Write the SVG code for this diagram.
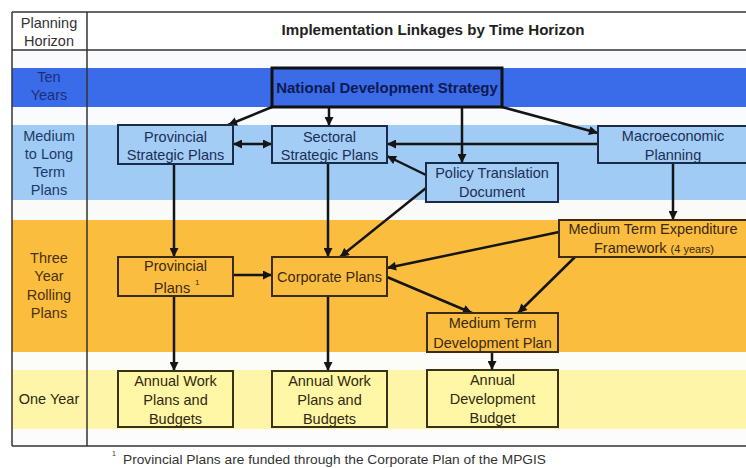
<svg xmlns="http://www.w3.org/2000/svg" width="746" height="468" viewBox="0 0 746 468">
  <style>
    text { font-family: "Liberation Sans", Arial, sans-serif; font-size: 14.5px; text-anchor: middle; }
    .hdr { font-weight: bold; font-size: 14px; fill: #222; }
    .lbl { fill: #333; }
    .lb-blue { fill: #1a2f7a; }
    .lb-lblue { fill: #1c3a6a; }
    .lb-orange { fill: #4a3210; }
    .lb-yellow { fill: #2b2b10; }
    .t-blue { fill: #1c2e55; }
    .t-orange { fill: #3a2a10; }
    .t-yellow { fill: #2f2a10; }
    .nds-box { fill: #3b6be6; stroke: #111; stroke-width: 3; }
    .nds-text { font-weight: bold; fill: #0d1a55; font-size: 15px; }
    .box-blue { fill: #a3cdf5; stroke: #1a2b48; stroke-width: 2; }
    .box-orange { fill: #fbbd40; stroke: #3b2a14; stroke-width: 2; }
    .box-yellow { fill: #fff6a6; stroke: #3a3214; stroke-width: 2; }
    .conn { fill: none; stroke: #151515; stroke-width: 2.5; marker-end: url(#ah); }
    .grid { stroke: #333; stroke-width: 1.5; fill: none; }
    .foot { font-size: 13.5px; fill: #333; text-anchor: start; }
    .sup { font-size: 8px; text-anchor: start; }
    .foot-sup { font-size: 7px; fill: #333; text-anchor: start; }
  </style>
  <defs>
    <marker id="ah" viewBox="0 0 10 10" refX="10" refY="5" markerWidth="10" markerHeight="9" markerUnits="userSpaceOnUse" orient="auto-start-reverse">
      <path d="M0,0 L10,5 L0,10 z" fill="#151515"/>
    </marker>
  </defs>

  <!-- page background -->
  <rect x="0" y="0" width="746" height="468" fill="#ffffff"/>

  <!-- horizon bands -->
  <g id="bands">
    <rect x="12" y="50" width="734" height="18" fill="#fafbfc"/>
    <rect x="12" y="68" width="734" height="39" fill="#3a6be8"/>
    <rect x="12" y="107" width="734" height="18" fill="#fafbfc"/>
    <rect x="12" y="125" width="734" height="75" fill="#9fcbf4"/>
    <rect x="12" y="200" width="734" height="20" fill="#fafaf8"/>
    <rect x="12" y="220" width="734" height="132" fill="#fbbd3e"/>
    <rect x="12" y="352" width="734" height="18" fill="#fcfcf8"/>
    <rect x="12" y="370" width="734" height="59" fill="#fff5a8"/>
    <rect x="12" y="429" width="734" height="17" fill="#fcfcfc"/>
  </g>

  <!-- table frame -->
  <g id="table">
    <line class="grid" x1="12" y1="12" x2="746" y2="12"/>
    <line class="grid" x1="12" y1="50" x2="746" y2="50"/>
    <line class="grid" x1="12" y1="446" x2="746" y2="446"/>
    <line class="grid" x1="12" y1="12" x2="12" y2="446"/>
    <line class="grid" x1="87" y1="12" x2="87" y2="446"/>
    <text class="lbl" x="49" y="28">Planning</text>
    <text class="lbl" x="49" y="46">Horizon</text>
    <text class="hdr" x="433" y="35" textLength="303" lengthAdjust="spacingAndGlyphs">Implementation Linkages by Time Horizon</text>
  </g>

  <!-- horizon labels -->
  <g id="horizon-labels">
    <text class="lb-blue" x="49" y="82">Ten</text>
    <text class="lb-blue" x="49" y="100">Years</text>
    <text class="lb-lblue" x="49" y="141">Medium</text>
    <text class="lb-lblue" x="49" y="159">to Long</text>
    <text class="lb-lblue" x="49" y="177">Term</text>
    <text class="lb-lblue" x="49" y="195">Plans</text>
    <text class="lb-orange" x="49" y="263">Three</text>
    <text class="lb-orange" x="49" y="281">Year</text>
    <text class="lb-orange" x="49" y="300">Rolling</text>
    <text class="lb-orange" x="49" y="318">Plans</text>
    <text class="lb-yellow" x="49" y="404">One Year</text>
  </g>

  <!-- connectors -->
  <g id="connectors">
    <path class="conn" d="M272,107 L228,125"/>
    <path class="conn" d="M329,107 L329,126"/>
    <path class="conn" d="M462,107 L462,163"/>
    <path class="conn" d="M502,107 L598,133"/>
    <path class="conn" d="M233,144 L272,144" style="marker-start:url(#ah)"/>
    <path class="conn" d="M598,144 L387,144"/>
    <path class="conn" d="M426,175 L387,156"/>
    <path class="conn" d="M426,188 L340,257"/>
    <path class="conn" d="M174,164 L174,257"/>
    <path class="conn" d="M328,163 L328,257"/>
    <path class="conn" d="M673,163 L673,220"/>
    <path class="conn" d="M559,232 L387,268"/>
    <path class="conn" d="M575,257 L518,313"/>
    <path class="conn" d="M387,277 L472,313"/>
    <path class="conn" d="M233,275 L272,275"/>
    <path class="conn" d="M174,296 L174,371"/>
    <path class="conn" d="M328,296 L328,371"/>
    <path class="conn" d="M492,352 L492,370"/>
  </g>

  <!-- ten-year node -->
  <g id="national-development-strategy">
    <rect class="nds-box" x="272" y="68" width="230" height="39"/>
    <text class="nds-text" x="387" y="93">National Development Strategy</text>
  </g>

  <!-- medium to long term nodes -->
  <g id="provincial-strategic-plans">
    <rect class="box-blue" x="118" y="125" width="115" height="39"/>
    <text class="t-blue" x="175.5" y="142">Provincial</text>
    <text class="t-blue" x="175.5" y="160">Strategic Plans</text>
  </g>
  <g id="sectoral-strategic-plans">
    <rect class="box-blue" x="272" y="126" width="115" height="37"/>
    <text class="t-blue" x="329.5" y="142">Sectoral</text>
    <text class="t-blue" x="329.5" y="160">Strategic Plans</text>
  </g>
  <g id="policy-translation-document">
    <rect class="box-blue" x="426" y="163" width="132" height="39"/>
    <text class="t-blue" x="492" y="178">Policy Translation</text>
    <text class="t-blue" x="492" y="197">Document</text>
  </g>
  <g id="macroeconomic-planning">
    <rect class="box-blue" x="598" y="126" width="160" height="37"/>
    <text class="t-blue" x="673" y="141">Macroeconomic</text>
    <text class="t-blue" x="673" y="160">Planning</text>
  </g>

  <!-- three year rolling nodes -->
  <g id="medium-term-expenditure-framework">
    <rect class="box-orange" x="559" y="220" width="200" height="37"/>
    <text class="t-orange" x="653" y="234">Medium Term Expenditure</text>
    <text class="t-orange" x="654" y="253">Framework <tspan font-size="11">(4 years)</tspan></text>
  </g>
  <g id="provincial-plans">
    <rect class="box-orange" x="118" y="257" width="115" height="39"/>
    <text class="t-orange" x="175.5" y="271">Provincial</text>
    <text class="t-orange" x="172" y="293">Plans</text>
    <text class="t-orange sup" x="195" y="285">1</text>
  </g>
  <g id="corporate-plans">
    <rect class="box-orange" x="272" y="257" width="115" height="39"/>
    <text class="t-orange" x="329.5" y="282">Corporate Plans</text>
  </g>
  <g id="medium-term-development-plan">
    <rect class="box-orange" x="427" y="313" width="131" height="39"/>
    <text class="t-orange" x="492.5" y="328">Medium Term</text>
    <text class="t-orange" x="492.5" y="348">Development Plan</text>
  </g>

  <!-- one year nodes -->
  <g id="annual-work-plans-provincial">
    <rect class="box-yellow" x="118" y="371" width="115" height="56"/>
    <text class="t-yellow" x="175.5" y="386">Annual Work</text>
    <text class="t-yellow" x="175.5" y="405">Plans and</text>
    <text class="t-yellow" x="175.5" y="424">Budgets</text>
  </g>
  <g id="annual-work-plans-corporate">
    <rect class="box-yellow" x="272" y="371" width="115" height="56"/>
    <text class="t-yellow" x="329.5" y="386">Annual Work</text>
    <text class="t-yellow" x="329.5" y="405">Plans and</text>
    <text class="t-yellow" x="329.5" y="424">Budgets</text>
  </g>
  <g id="annual-development-budget">
    <rect class="box-yellow" x="427" y="370" width="131" height="57"/>
    <text class="t-yellow" x="492.5" y="385">Annual</text>
    <text class="t-yellow" x="492.5" y="404">Development</text>
    <text class="t-yellow" x="492.5" y="423">Budget</text>
  </g>

  <!-- footnote -->
  <g id="footnote">
    <text class="foot-sup" x="112" y="456">1</text>
    <text class="foot" x="123" y="464" textLength="423" lengthAdjust="spacingAndGlyphs">Provincial Plans are funded through the Corporate Plan of the MPGIS</text>
  </g>
</svg>
